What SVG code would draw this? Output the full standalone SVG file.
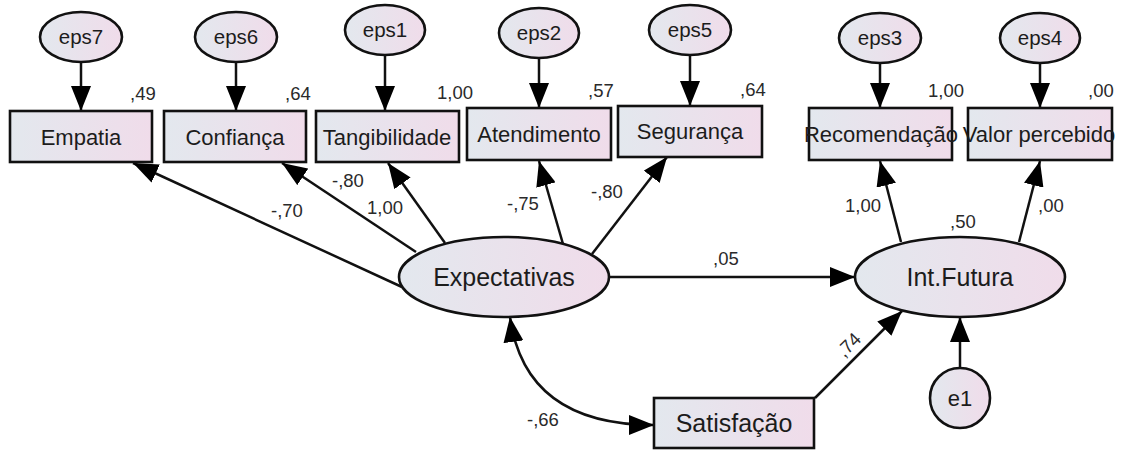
<svg xmlns="http://www.w3.org/2000/svg" width="1127" height="450" viewBox="0 0 1127 450">
<style>
.nf{fill:url(#g);stroke:#111;stroke-width:2.6}
.lb{font-family:"Liberation Sans",Arial,sans-serif;font-size:22px;fill:#1c1c1c;text-anchor:middle}
.big{font-size:25px}
.ep{font-size:20.5px}
.num{font-family:"Liberation Sans",Arial,sans-serif;font-size:18.5px;fill:#2a2a2a}
.c{stroke:#111;stroke-width:2.5;fill:none;marker-end:url(#ah)}
</style>
<defs>
<linearGradient id="g" x1="0" y1="0" x2="1" y2="0">
<stop offset="0" stop-color="#e3e8ee"/>
<stop offset="1" stop-color="#f0dcea"/>
</linearGradient>
<marker id="ah" viewBox="0 -10 25 20" refX="25" refY="0" markerWidth="25" markerHeight="20" markerUnits="userSpaceOnUse" orient="auto-start-reverse">
<path d="M0,-10 L25,0 L0,10 z" fill="#000"/>
</marker>
</defs>
<g id="connectors">
<line class="c" x1="81" y1="62" x2="81" y2="111"/>
<line class="c" x1="236" y1="62" x2="236" y2="111"/>
<line class="c" x1="385" y1="55" x2="385" y2="111"/>
<line class="c" x1="539" y1="58" x2="539" y2="108"/>
<line class="c" x1="690" y1="55" x2="690" y2="106"/>
<line class="c" x1="880" y1="63" x2="880" y2="108"/>
<line class="c" x1="1040" y1="63" x2="1040" y2="108"/>
<line class="c" x1="402" y1="287" x2="133" y2="163"/>
<line class="c" x1="416" y1="252" x2="282" y2="163"/>
<line class="c" x1="445" y1="243" x2="388" y2="163"/>
<line class="c" x1="563" y1="244" x2="539" y2="161"/>
<line class="c" x1="592" y1="254" x2="667" y2="157"/>
<line class="c" x1="609" y1="277" x2="855" y2="277"/>
<line class="c" x1="901" y1="242" x2="880" y2="161"/>
<line class="c" x1="1019" y1="242" x2="1040" y2="161"/>
<line class="c" x1="815" y1="398" x2="902" y2="311"/>
<line class="c" x1="960" y1="368" x2="960" y2="317"/>
<path class="c" d="M510,317 Q525,425 654,425" marker-start="url(#ah)"/>
</g>
<g id="eps7"><ellipse class="nf" cx="81" cy="37" rx="41" ry="25"/><text class="lb ep" x="81" y="44">eps7</text></g>
<g id="eps6"><ellipse class="nf" cx="236" cy="37" rx="41" ry="25"/><text class="lb ep" x="236" y="44">eps6</text></g>
<g id="eps1"><ellipse class="nf" cx="385" cy="30" rx="40" ry="25"/><text class="lb ep" x="385" y="37">eps1</text></g>
<g id="eps2"><ellipse class="nf" cx="539" cy="33" rx="40" ry="25"/><text class="lb ep" x="539" y="40">eps2</text></g>
<g id="eps5"><ellipse class="nf" cx="690" cy="30" rx="41" ry="25"/><text class="lb ep" x="690" y="37">eps5</text></g>
<g id="eps3"><ellipse class="nf" cx="880" cy="38" rx="41" ry="25"/><text class="lb ep" x="880" y="45">eps3</text></g>
<g id="eps4"><ellipse class="nf" cx="1040" cy="38" rx="40" ry="25"/><text class="lb ep" x="1040" y="45">eps4</text></g>
<g id="empatia"><rect class="nf" x="10" y="111" width="142" height="51"/><text class="lb" x="81" y="145">Empatia</text><text class="num" x="130" y="100">,49</text></g>
<g id="confianca"><rect class="nf" x="164" y="111" width="142" height="51"/><text class="lb" x="235" y="145">Confiança</text><text class="num" x="285" y="100">,64</text></g>
<g id="tangibilidade"><rect class="nf" x="316" y="111" width="143" height="51"/><text class="lb" x="387" y="145">Tangibilidade</text><text class="num" x="437" y="99">1,00</text></g>
<g id="atendimento"><rect class="nf" x="467" y="108" width="144" height="52"/><text class="lb" x="539" y="142">Atendimento</text><text class="num" x="588" y="97">,57</text></g>
<g id="seguranca"><rect class="nf" x="618" y="106" width="144" height="51"/><text class="lb" x="690" y="139">Segurança</text><text class="num" x="740" y="96">,64</text></g>
<g id="recomendacao"><rect class="nf" x="809" y="108" width="143" height="52"/><text class="lb" x="881" y="142">Recomendação</text><text class="num" x="928" y="97">1,00</text></g>
<g id="valor"><rect class="nf" x="968" y="108" width="144" height="52"/><text class="lb" x="1039" y="142">Valor percebido</text><text class="num" x="1088" y="97">,00</text></g>
<g id="expectativas"><ellipse class="nf" cx="504" cy="277" rx="105" ry="40"/><text class="lb big" x="504" y="286">Expectativas</text></g>
<g id="intfutura"><ellipse class="nf" cx="960" cy="277" rx="105" ry="40"/><text class="lb big" x="960" y="286">Int.Futura</text><text class="num" x="950" y="228">,50</text></g>
<g id="satisfacao"><rect class="nf" x="654" y="398" width="160" height="50"/><text class="lb big" x="734" y="432">Satisfação</text></g>
<g id="e1"><circle class="nf" cx="960" cy="398" r="30"/><text class="lb" x="960" y="406">e1</text></g>
<g id="labels">
<text class="num" x="332" y="187">-,80</text>
<text class="num" x="367" y="214">1,00</text>
<text class="num" x="271" y="217">-,70</text>
<text class="num" x="507" y="210">-,75</text>
<text class="num" x="591" y="198">-,80</text>
<text class="num" x="713" y="265">,05</text>
<text class="num" x="845" y="212">1,00</text>
<text class="num" x="1038" y="212">,00</text>
<text class="num" x="849" y="351" text-anchor="middle" transform="rotate(-45 849 345)">,74</text>
<text class="num" x="527" y="426">-,66</text>
</g>
</svg>
